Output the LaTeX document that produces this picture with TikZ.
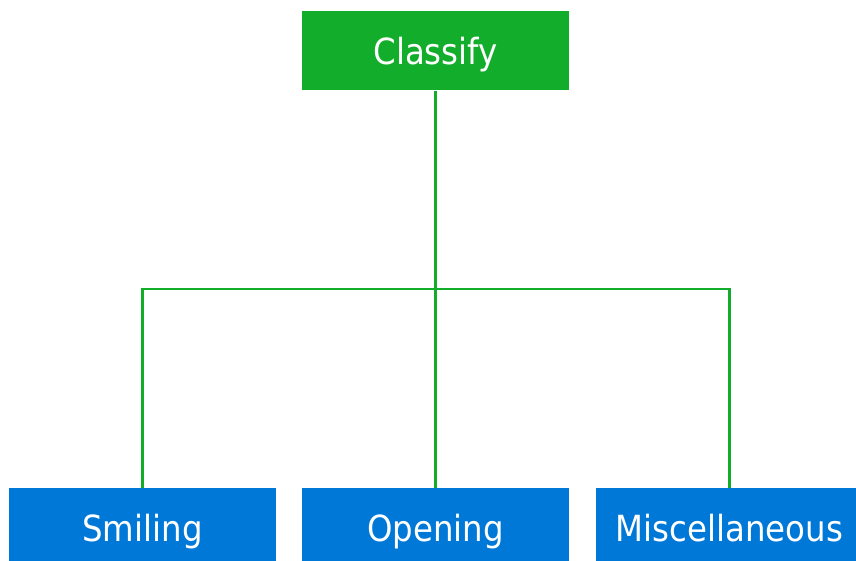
\documentclass[tikz,border=0pt]{standalone}
\usepackage{fontspec}
\setmainfont{DejaVu Sans Condensed}
\definecolor{rootgreen}{HTML}{13AD2C}
\definecolor{leafblue}{HTML}{0078D7}
\begin{document}
\begin{tikzpicture}[x=1pt,y=-1pt,
  box/.style={draw=none,minimum width=267pt,inner sep=0pt,text depth=0pt,
    text=white,font=\fontsize{36}{42}\selectfont},
  root/.style={box,fill=rootgreen,minimum height=79pt,text height=28pt},
  leaf/.style={box,fill=leafblue,minimum height=73pt,text height=33pt},
  link/.style={draw=rootgreen,line width=2.2pt}]
\useasboundingbox (0,0) rectangle (856,561);
\node[root] (classify) at (435.5,51) {Classify};
\node[leaf] (smiling) at (142.5,524.5) {Smiling};
\node[leaf] (opening) at (435.5,524.5) {Opening};
\node[leaf] (misc) at (729.5,524.5) {Miscellaneous};
\coordinate (bus) at (435.5,289);
\draw[link] (classify.south) -- (opening.north);
\draw[link] (smiling.north) |- (bus) -| (misc.north);
\end{tikzpicture}
\end{document}
